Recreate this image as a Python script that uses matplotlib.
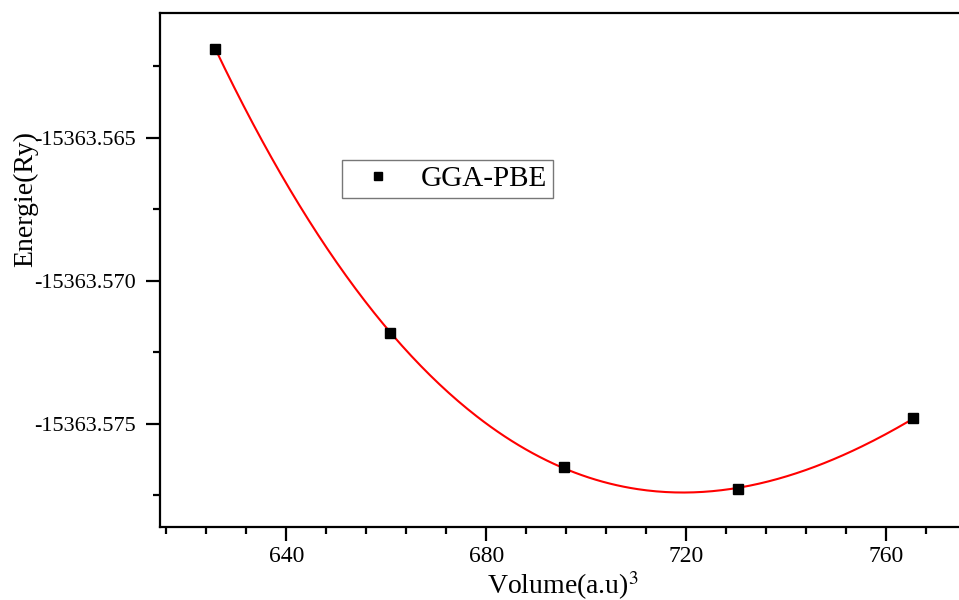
import numpy as np
import matplotlib
matplotlib.use('Agg')
import matplotlib.pyplot as plt
from matplotlib.ticker import FormatStrFormatter, MultipleLocator

# data
volume = [625.8, 660.7, 695.5, 730.4, 765.3]
energie = [-15363.56190, -15363.57183, -15363.57649, -15363.57727, -15363.57481]
legend_label = 'GGA-PBE'

plt.rcParams['font.family'] = ['Liberation Serif', 'DejaVu Serif']
plt.rcParams['mathtext.fontset'] = 'stix'

fig = plt.figure(figsize=(9.59, 6), dpi=100)
ax = fig.add_axes([0.1668, 0.1222, 0.8332, 0.8556])

# polynomial fit for the smooth red curve
coef = np.polyfit(volume, energie, 3)
v_fit = np.linspace(volume[0], volume[-1], 300)
ax.plot(v_fit, np.polyval(coef, v_fit), color='red', lw=1.5, zorder=2)
ax.plot(volume, energie, 's', color='black', markersize=6.5, label=legend_label, zorder=3)

ax.set_xlim(614.7, 774.5)
ax.set_ylim(-15363.57859, -15363.56066)

ax.xaxis.set_major_locator(MultipleLocator(40))
ax.xaxis.set_minor_locator(MultipleLocator(8))
ax.yaxis.set_major_locator(MultipleLocator(0.005))
ax.yaxis.set_minor_locator(MultipleLocator(0.0025))
ax.yaxis.set_major_formatter(FormatStrFormatter('%.3f'))

ax.spines['right'].set_visible(False)
for s in ['left', 'bottom', 'top']:
    ax.spines[s].set_linewidth(1.6)

ax.tick_params(which='major', direction='out', length=10, width=1.6, pad=7)
ax.tick_params(axis='y', which='major', labelsize=16)
ax.tick_params(axis='x', which='major', labelsize=17, pad=4)
ax.tick_params(which='minor', direction='out', length=5, width=1.6)
ax.tick_params(top=False, which='both')

fig.text(563 / 959, 1 - 594 / 600, 'Volume(a.u)$^3$', fontsize=20, ha='center', va='baseline')
fig.text(26 / 959, 1 - 199 / 600, 'Energie(Ry)', fontsize=20, rotation=90, ha='center', va='center')

leg = ax.legend(loc='upper left', bbox_to_anchor=(341.7 / 959, 1 - 160 / 600),
                bbox_transform=fig.transFigure, borderaxespad=0, fancybox=False,
                edgecolor='#555555', fontsize=21, markerscale=0.85, handlelength=2.1,
                handletextpad=0.4, borderpad=0.2)
leg.get_frame().set_linewidth(1.0)

fig.savefig('out.png', dpi=100)
